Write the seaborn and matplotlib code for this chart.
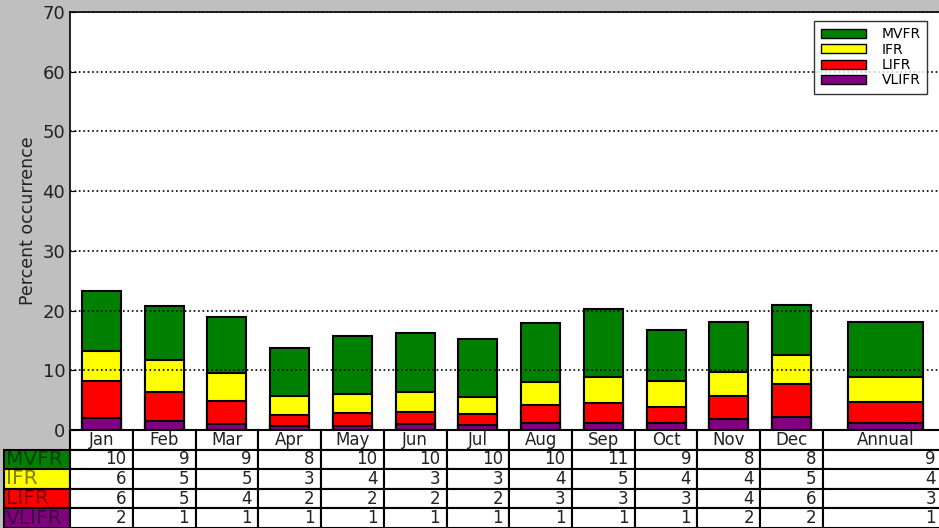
import numpy as np
import pandas as pd
import matplotlib
matplotlib.use('Agg')
import matplotlib.pyplot as plt
from matplotlib.patches import Patch
import seaborn as sns

# Data
columns = ['Jan', 'Feb', 'Mar', 'Apr', 'May', 'Jun', 'Jul', 'Aug', 'Sep', 'Oct', 'Nov', 'Dec', 'Annual']
categories = ['MVFR', 'IFR', 'LIFR', 'VLIFR']
colors = {'MVFR': '#008000', 'IFR': '#ffff00', 'LIFR': '#ff0000', 'VLIFR': '#800080'}

# bar segment heights (percent)
vlifr = [2.05, 1.5, 1.0, 0.7, 0.6, 1.0, 0.8, 1.2, 1.2, 1.2, 1.8, 2.1, 1.2]
lifr = [6.15, 4.9, 3.9, 1.8, 2.2, 2.0, 1.8, 3.0, 3.25, 2.7, 3.9, 5.6, 3.5]
ifr = [5.1, 5.4, 4.65, 3.2, 3.3, 3.4, 2.95, 3.85, 4.5, 4.3, 4.0, 4.8, 4.1]
mvfr = [9.9, 8.9, 9.45, 8.1, 9.7, 9.9, 9.75, 9.85, 11.25, 8.6, 8.35, 8.5, 9.25]

# numbers printed in the table
table_vals = {
    'MVFR': [10, 9, 9, 8, 10, 10, 10, 10, 11, 9, 8, 8, 9],
    'IFR': [6, 5, 5, 3, 4, 3, 3, 4, 5, 4, 4, 5, 4],
    'LIFR': [6, 5, 4, 2, 2, 2, 2, 3, 3, 3, 4, 6, 3],
    'VLIFR': [2, 1, 1, 1, 1, 1, 1, 1, 1, 1, 2, 2, 1],
}

# stacked tops
cum = np.cumsum([vlifr, lifr, ifr, mvfr], axis=0)
tops = {'VLIFR': cum[0], 'LIFR': cum[1], 'IFR': cum[2], 'MVFR': cum[3]}

# column layout: 12 months one unit wide, annual two units wide
col_w = np.array([1.0] * 12 + [2.0])
pos = np.cumsum(col_w) - col_w / 2

sns.set_style('white')
plt.rcParams['font.family'] = ['DejaVu Sans']
plt.rcParams['text.color'] = 'black'
plt.rcParams['axes.labelcolor'] = 'black'
plt.rcParams['ytick.color'] = 'black'

W, H = 939, 528
fig = plt.figure(figsize=(W / 100, H / 100), dpi=100, facecolor='#bfbfbf')
ax_l, ax_r, ax_t, ax_b = 70, 948.5, 12, 430
ax = fig.add_axes([ax_l / W, 1 - ax_b / H, (ax_r - ax_l) / W, (ax_b - ax_t) / H])
ax.set_facecolor('white')

# draw tallest layer first so lower segments sit on top
for cat in ['MVFR', 'IFR', 'LIFR', 'VLIFR']:
    df = pd.DataFrame({'pos': pos, 'top': tops[cat]})
    sns.barplot(data=df.iloc[:12], x='pos', y='top', native_scale=True, width=0.62,
                color=colors[cat], saturation=1, edgecolor='black', linewidth=1.5,
                errorbar=None, ax=ax)
    sns.barplot(data=df.iloc[12:], x='pos', y='top', native_scale=True, width=1.2,
                color=colors[cat], saturation=1, edgecolor='black', linewidth=1.5,
                errorbar=None, ax=ax)

ax.set_xlim(0, col_w.sum())
ax.set_ylim(0, 70)
ax.set_xticks([])
ax.set_xlabel('')
ax.set_yticks(range(0, 71, 10))
ax.tick_params(axis='y', direction='in', length=4, labelsize=13, left=True,
               colors='black', labelcolor='#222222')
ax.set_ylabel('Percent occurrence', fontsize=12.5, labelpad=4, color='#222222')
ax.yaxis.grid(True, linestyle=':', color='black', linewidth=1.2)
ax.set_axisbelow(False)
for s in ax.spines.values():
    s.set_color('black')
    s.set_linewidth(1.2)

# legend
handles = [Patch(facecolor=colors[c], edgecolor='black', label=c) for c in categories]
leg = ax.legend(handles=handles, loc='upper right', bbox_to_anchor=(927 / W, 1 - 21 / H),
                bbox_transform=fig.transFigure, borderaxespad=0, fontsize=10,
                labelspacing=0.1, handlelength=3.3, handleheight=0.65, handletextpad=1.1,
                frameon=True, fancybox=False, borderpad=0.45)
leg.get_frame().set_edgecolor('black')
leg.get_frame().set_linewidth(1)

# table under the axes (row label column sits left of the bbox)
ax_w_px = ax_r - ax_l
ax_h_px = ax_b - ax_t
row_lab_w = 66 / ax_w_px
cell_text = [[str(v) for v in table_vals[c]] for c in categories]
tab = ax.table(cellText=cell_text, colLabels=columns,
               colWidths=list(col_w / col_w.sum()),
               cellLoc='right', colLoc='center',
               bbox=[0, -(H - ax_b) / ax_h_px, 1, (H - ax_b) / ax_h_px])
cell_h = tab[1, 0].get_height()
for i, c in enumerate(categories):
    tab.add_cell(i + 1, -1, width=row_lab_w, height=cell_h, text=c,
                 facecolor=colors[c], loc='left')
tab.auto_set_font_size(False)
tab.set_fontsize(12)
for (r, c), cell in tab.get_celld().items():
    cell.set_edgecolor('black')
    cell.set_linewidth(1.5)
    cell.get_text().set_color('#222222')
    if c == -1:
        cell.PAD = 0.03
        cell.get_text().set_fontsize(14.5)
        cell.get_text().set_color('black')
        cell.get_text().set_alpha(0.5)

fig.savefig('out.png', dpi=100, facecolor=fig.get_facecolor())
